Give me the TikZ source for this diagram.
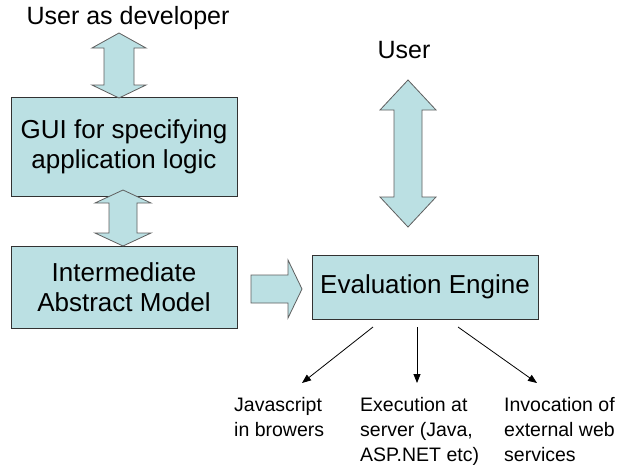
\documentclass[tikz,border=0pt]{standalone}
\usepackage{fontspec}
\setmainfont{Liberation Sans}
\usetikzlibrary{arrows.meta,calc}
\definecolor{boxfill}{RGB}{187,224,227}
\definecolor{boxline}{RGB}{50,50,50}
\definecolor{arrline}{RGB}{95,95,95}
\tikzset{
  box/.style={draw=boxline, fill=boxfill, line width=0.9pt, inner sep=0pt, align=center,
    minimum width=226pt, font=\fontsize{26}{30}\selectfont},
  blockarrow/.style={draw=arrline, fill=boxfill, line width=0.8pt, line join=miter},
  bigtext/.style={inner sep=0pt, font=\fontsize{25}{30}\selectfont},
  smalltext/.style={inner sep=0pt, align=left, anchor=north west, font=\fontsize{19.5}{25}\selectfont},
  thinarrow/.style={-{Triangle[length=9pt,width=7pt]}, line width=0.8pt, black}
}
\begin{document}
\begin{tikzpicture}[x=1pt,y=-1pt]
\useasboundingbox[fill=white] (0,0) rectangle (628,464);

% texts
\node[bigtext] (dev) at (128,18) {User as developer};
\node[bigtext] (user) at (404,50) {User};

% boxes
\node[box, minimum height=99pt] (gui) at (124,146.5) {GUI for specifying\\application logic};
\node[box, minimum height=82pt] (iam) at (124,287) {Intermediate\\Abstract Model};
\node[box, minimum height=64pt] (eval) at (425,287) {Evaluation Engine};

% block arrows
\draw[blockarrow] (119,33) -- (146,48) -- (134,48) -- (134,85) -- (146,85) -- (119,98)
  -- (92,85) -- (104,85) -- (104,48) -- (92,48) -- cycle;
\draw[blockarrow] (123,190) -- (151,203) -- (137,203) -- (137,233) -- (151,233) -- (123,246)
  -- (95,233) -- (109,233) -- (109,203) -- (95,203) -- cycle;
\draw[blockarrow] (408,80) -- (436,110) -- (422,110) -- (422,197) -- (436,197) -- (408,227)
  -- (380,197) -- (394,197) -- (394,110) -- (380,110) -- cycle;
\draw[blockarrow] (251,275) -- (288,275) -- (288,260) -- (302,289) -- (288,318) -- (288,303)
  -- (251,303) -- cycle;

% output labels
\node[smalltext] (js) at (234,397) {Javascript\\in browers};
\node[smalltext] (exe) at (360,397) {Execution at\\server (Java,\\ASP.NET etc)};
\node[smalltext] (inv) at (504,397) {Invocation of\\external web\\services};

\coordinate (s1) at (373,327);
\coordinate (s2) at (417,327);
\coordinate (s3) at (458,327);
\coordinate (e1) at (302,383);
\coordinate (e2) at (417,383);
\coordinate (e3) at (537,383);
\draw[thinarrow] (s1) -- (e1);
\draw[thinarrow] (s2) -- (e2);
\draw[thinarrow] (s3) -- (e3);
\end{tikzpicture}
\end{document}
